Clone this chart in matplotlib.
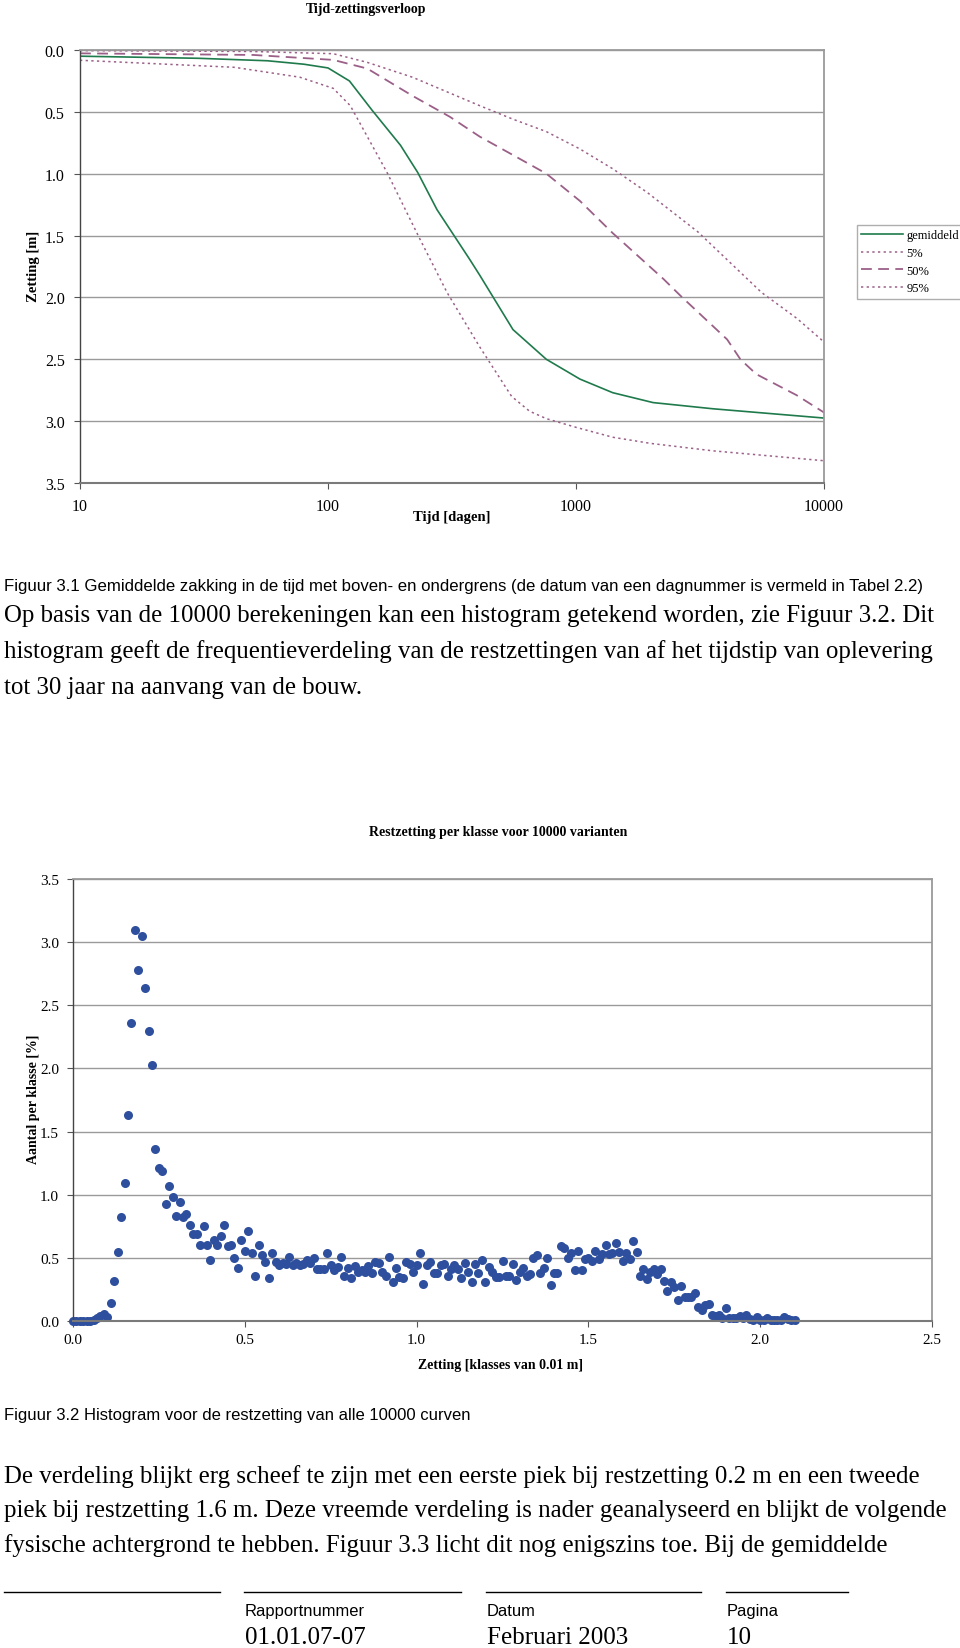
import matplotlib
matplotlib.use('Agg')
import matplotlib.pyplot as plt
import numpy as np
from matplotlib import font_manager
from matplotlib.lines import Line2D

# ---- data: tijd-zettingsverloop ----
t_gem = [10, 30, 57, 80, 100, 122, 151, 196, 230, 275, 372, 409, 557, 759, 1037, 1406, 2045, 3565, 10000]
z_gem = [0.05, 0.067, 0.087, 0.115, 0.145, 0.25, 0.49, 0.77, 0.99, 1.29, 1.69, 1.82, 2.26, 2.50, 2.66, 2.77, 2.85, 2.90, 2.975]

t_5 = [10, 50, 105, 144, 219, 409, 558, 760, 1037, 1406, 1933, 3100, 5600, 7780, 10000]
z_5 = [0.005, 0.012, 0.03, 0.10, 0.22, 0.45, 0.56, 0.66, 0.80, 0.96, 1.15, 1.47, 1.96, 2.17, 2.36]

t_50 = [10, 50, 105, 144, 219, 310, 409, 558, 760, 1037, 1406, 2250, 2650, 4070, 4600, 5330, 7750, 10000]
z_50 = [0.027, 0.04, 0.08, 0.15, 0.37, 0.54, 0.70, 0.85, 1.00, 1.22, 1.48, 1.85, 1.99, 2.34, 2.50, 2.62, 2.79, 2.93]

t_95 = [10, 42, 77, 105, 123, 173, 235, 302, 409, 550, 650, 760, 1000, 1406, 2000, 3565, 10000]
z_95 = [0.083, 0.14, 0.22, 0.31, 0.45, 0.99, 1.53, 1.96, 2.40, 2.80, 2.92, 2.98, 3.05, 3.13, 3.18, 3.24, 3.32]

tijd_ticks = [10, 100, 1000, 10000]
zetting_ticks = [0.0, 0.5, 1.0, 1.5, 2.0, 2.5, 3.0, 3.5]

# ---- data: restzetting per klasse (klassen van 0.01 m, vanaf 0.00) ----
klasse_breedte = 0.01
aantal = [
    0, 0, 0, 0, 0, 0, 0.005, 0.02, 0.04, 0.055,                 # 0.00-0.09
    0.035, 0.14, 0.32, 0.55, 0.82, 1.09, 1.63, 2.36, 3.10, 2.78,  # 0.10-0.19
    3.05, 2.64, 2.30, 2.03, 1.36, 1.21, 1.19, 0.93, 1.07, 0.98,   # 0.20-0.29
    0.83, 0.94, 0.82, 0.85, 0.76, 0.69, 0.69, 0.60, 0.75, 0.60,   # 0.30-0.39
    0.48, 0.64, 0.60, 0.67, 0.76, 0.59, 0.60, 0.50, 0.42, 0.64,   # 0.40-0.49
    0.555, 0.715, 0.54, 0.36, 0.60, 0.525, 0.47, 0.34, 0.535, 0.47,  # 0.50-0.59
    0.445, 0.46, 0.45, 0.51, 0.445, 0.46, 0.445, 0.45, 0.48, 0.46,   # 0.60-0.69
    0.50, 0.41, 0.41, 0.41, 0.535, 0.44, 0.40, 0.43, 0.51, 0.355,    # 0.70-0.79
    0.42, 0.34, 0.435, 0.385, 0.40, 0.39, 0.435, 0.38, 0.47, 0.46,   # 0.80-0.89
    0.39, 0.355, 0.51, 0.305, 0.42, 0.35, 0.34, 0.47, 0.45, 0.39,    # 0.90-0.99
    0.445, 0.535, 0.295, 0.445, 0.47, 0.38, 0.38, 0.445, 0.45, 0.355,  # 1.00-1.09
    0.41, 0.445, 0.41, 0.34, 0.46, 0.385, 0.305, 0.45, 0.38, 0.48,     # 1.10-1.19
    0.305, 0.43, 0.39, 0.35, 0.35, 0.475, 0.355, 0.355, 0.45, 0.325,   # 1.20-1.29
    0.39, 0.42, 0.36, 0.37, 0.50, 0.52, 0.38, 0.42, 0.495, 0.285,      # 1.30-1.39
    0.38, 0.38, 0.59, 0.58, 0.50, 0.54, 0.40, 0.555, 0.40, 0.49,       # 1.40-1.49
    0.50, 0.475, 0.555, 0.49, 0.53, 0.60, 0.53, 0.54, 0.615, 0.55,     # 1.50-1.59
    0.475, 0.54, 0.49, 0.63, 0.545, 0.36, 0.41, 0.335, 0.39, 0.41,     # 1.60-1.69
    0.37, 0.41, 0.32, 0.24, 0.31, 0.27, 0.165, 0.28, 0.19, 0.19,       # 1.70-1.79
    0.19, 0.22, 0.11, 0.087, 0.124, 0.135, 0.05, 0.04, 0.05, 0.025,    # 1.80-1.89
    0.105, 0.025, 0.025, 0.025, 0.04, 0.025, 0.05, 0.015, 0.005, 0.03, # 1.90-1.99
    0.005, 0.01, 0.02, 0.005, 0.005, 0.005, 0.01, 0.03, 0.015, 0.005,  # 2.00-2.09
    0.005,                                                             # 2.10
]
klassen = np.arange(len(aantal)) * klasse_breedte
klasse_ticks = [0.0, 0.5, 1.0, 1.5, 2.0, 2.5]
aantal_ticks = [0.0, 0.5, 1.0, 1.5, 2.0, 2.5, 3.0, 3.5]

# ---- page layout helpers (pixel positions on a 960x1649 page) ----
W, H = 960, 1649
def fx(x):
    return x / W
def fy(y):
    return 1 - y / H

names = {f.name for f in font_manager.fontManager.ttflist}
SANS = 'Liberation Sans Narrow' if 'Liberation Sans Narrow' in names else 'Liberation Sans'
SERIF = 'Liberation Serif'
plt.rcParams['font.family'] = [SERIF, 'DejaVu Serif']

groen = '#1f7a4c'
mauve = '#9b6088'
blauw = '#2e4f9e'
grijs = '#9a9a9a'

fig = plt.figure(figsize=(9.6, 16.49), dpi=100)
renderer = fig.canvas.get_renderer()

def fit(txt, width):
    w = txt.get_window_extent(renderer=renderer).width
    txt.set_fontsize(txt.get_fontsize() * width / w)
    return txt.get_fontsize()

def style_axes(ax):
    for s in ['top', 'right']:
        ax.spines[s].set_color(grijs)
        ax.spines[s].set_linewidth(1.3)
    ax.spines['left'].set_color('#444444')
    ax.spines['left'].set_linewidth(1.0)
    ax.spines['bottom'].set_color('#7a7a7a')
    ax.spines['bottom'].set_linewidth(1.5)
    ax.grid(axis='y', color=grijs, lw=1.0)
    ax.set_axisbelow(True)
    ax.tick_params(length=4, width=0.8, color='#555555')

# ---- grafiek 1: tijd-zettingsverloop ----
ax1 = fig.add_axes([fx(80), fy(484), 744 / W, 433 / H])
ax1.plot(t_gem, z_gem, color=groen, lw=1.2, label='gemiddeld')
ax1.plot(t_5, z_5, color=mauve, lw=1.1, ls=(0, (1.5, 2.2)), label='5%')
ax1.plot(t_50, z_50, color=mauve, lw=1.3, ls=(0, (6, 3.5)), label='50%')
ax1.plot(t_95, z_95, color=mauve, lw=1.1, ls=(0, (1.5, 2.2)), label='95%')
ax1.set_xscale('log')
ax1.set_xlim(10, 10000)
ax1.set_ylim(3.5, 0)
ax1.set_xticks(tijd_ticks)
ax1.set_xticklabels([str(t) for t in tijd_ticks])
ax1.xaxis.set_minor_locator(matplotlib.ticker.NullLocator())
ax1.set_yticks(zetting_ticks)
ax1.set_yticklabels([f'{v:.1f}' for v in zetting_ticks])
style_axes(ax1)
ax1.tick_params(axis='x', pad=7, labelsize=11.5)
ax1.tick_params(axis='y', pad=7, labelsize=11.5)

fig.text(fx(366), fy(10), 'Tijd-zettingsverloop', ha='center', va='center',
         fontsize=10, fontweight='bold')
fig.text(fx(452), fy(517), 'Tijd [dagen]', ha='center', va='center',
         fontsize=10.5, fontweight='bold')
fig.text(fx(33), fy(266), 'Zetting [m]', ha='center', va='center',
         rotation=90, fontsize=10.5, fontweight='bold')

h, l = ax1.get_legend_handles_labels()
fig.legend(h, l, loc='upper left', bbox_to_anchor=(fx(857), fy(226)),
           frameon=True, fancybox=False, edgecolor=grijs, fontsize=9,
           handlelength=3.3, handletextpad=0.3, labelspacing=0.45,
           borderpad=0.35, borderaxespad=0)

# ---- tekst tussen de grafieken ----
cap1 = fig.text(fx(4), fy(586), 'Figuur 3.1 Gemiddelde zakking in de tijd met boven- en ondergrens '
                '(de datum van een dagnummer is vermeld in Tabel 2.2)',
                ha='left', va='center', family=SANS, fontsize=12)
fit(cap1, 920)

par1 = ['Op basis van de 10000 berekeningen kan een histogram getekend worden, zie Figuur 3.2. Dit',
        'histogram geeft de frequentieverdeling van de restzettingen van af het tijdstip van oplevering',
        'tot 30 jaar na aanvang van de bouw.']
par1_y = [616, 652, 688]
t0 = fig.text(fx(4), fy(par1_y[0]), par1[0], ha='left', va='center', fontsize=17)
fs = fit(t0, 929)
for line, y in zip(par1[1:], par1_y[1:]):
    fig.text(fx(4), fy(y), line, ha='left', va='center', fontsize=fs)

# ---- grafiek 2: restzetting per klasse ----
ax2 = fig.add_axes([fx(73), fy(1322), 859 / W, 442 / H])
ax2.plot(klassen, aantal, 'o', color=blauw, ms=6.5, mew=0, clip_on=False)
ax2.set_xlim(0, 2.5)
ax2.set_ylim(0, 3.5)
ax2.set_xticks(klasse_ticks)
ax2.set_xticklabels([f'{v:.1f}' for v in klasse_ticks])
ax2.set_yticks(aantal_ticks)
ax2.set_yticklabels([f'{v:.1f}' for v in aantal_ticks])
style_axes(ax2)
ax2.tick_params(axis='x', pad=5, labelsize=11)
ax2.tick_params(axis='y', pad=6, labelsize=11)

fig.text(fx(498), fy(833), 'Restzetting per klasse voor 10000 varianten', ha='center',
         va='center', fontsize=10, fontweight='bold')
fig.text(fx(501), fy(1366), 'Zetting [klasses van 0.01 m]', ha='center', va='center',
         fontsize=10, fontweight='bold')
fig.text(fx(33), fy(1099), 'Aantal per klasse [%]', ha='center', va='center',
         rotation=90, fontsize=10, fontweight='bold')

cap2 = fig.text(fx(4), fy(1416), 'Figuur 3.2 Histogram voor de restzetting van alle 10000 curven',
                ha='left', va='center', family=SANS, fontsize=12)
fit(cap2, 466)

par2 = ['De verdeling blijkt erg scheef te zijn met een eerste piek bij restzetting 0.2 m en een tweede',
        'piek bij restzetting 1.6 m. Deze vreemde verdeling is nader geanalyseerd en blijkt de volgende',
        'fysische achtergrond te hebben. Figuur 3.3 licht dit nog enigszins toe. Bij de gemiddelde']
par2_y = [1477, 1511, 1546]
t1 = fig.text(fx(4), fy(par2_y[1]), par2[1], ha='left', va='center', fontsize=17)
fs2 = fit(t1, 941)
for line, y in [(par2[0], par2_y[0]), (par2[2], par2_y[2])]:
    fig.text(fx(4), fy(y), line, ha='left', va='center', fontsize=fs2)

# ---- voettekst ----
for x0, x1 in [(4, 220), (244, 461), (486, 701), (726, 848)]:
    fig.add_artist(Line2D([fx(x0), fx(x1)], [fy(1593), fy(1593)],
                          transform=fig.transFigure, color='black', lw=1))

lab = fig.text(fx(245), fy(1612), 'Rapportnummer', ha='left', va='center', family=SANS, fontsize=11)
fsl = fit(lab, 119)
fig.text(fx(487), fy(1612), 'Datum', ha='left', va='center', family=SANS, fontsize=fsl)
fig.text(fx(727), fy(1612), 'Pagina', ha='left', va='center', family=SANS, fontsize=fsl)

val = fig.text(fx(245), fy(1638), '01.01.07-07', ha='left', va='center', fontsize=16)
fsv = fit(val, 121)
fig.text(fx(487), fy(1638), 'Februari 2003', ha='left', va='center', fontsize=fsv)
fig.text(fx(727), fy(1638), '10', ha='left', va='center', fontsize=fsv)

fig.savefig('out.png', dpi=100)
